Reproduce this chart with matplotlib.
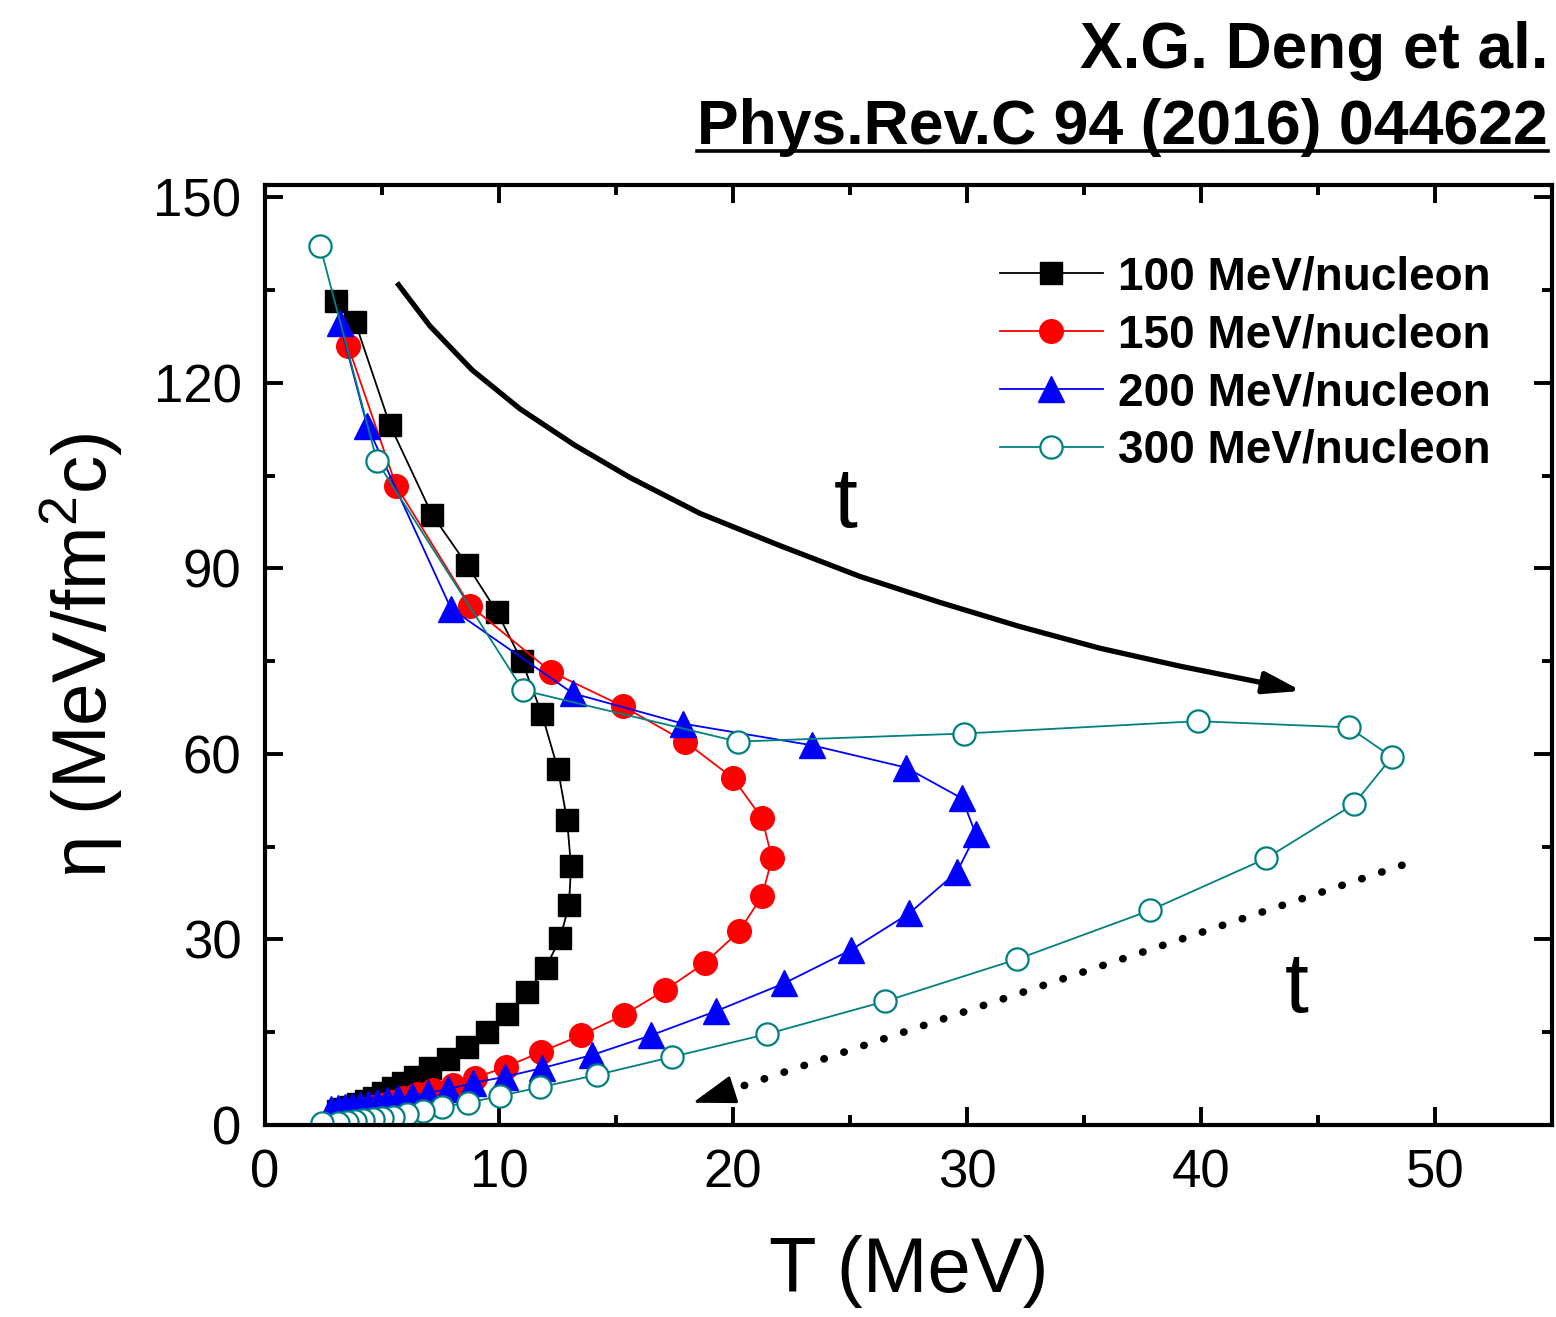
import numpy as np
import matplotlib.pyplot as plt
from matplotlib.lines import Line2D
from matplotlib.ticker import MultipleLocator

plt.rcParams['font.family'] = ['Liberation Sans', 'DejaVu Sans']
plt.rcParams['mathtext.fontset'] = 'custom'
plt.rcParams['mathtext.rm'] = 'Liberation Sans'

# 100 MeV/nucleon
T_100 = [3.03, 3.85, 5.34, 7.14, 8.63, 9.91, 10.98, 11.84, 12.52, 12.91, 13.08, 12.99,
         12.61, 12.0, 11.2, 10.34, 9.49, 8.63, 7.82, 7.05, 6.41, 5.90, 5.47, 5.04,
         4.66, 4.32, 3.97, 3.68, 3.38, 3.12]
eta_100 = [133.3, 129.9, 113.2, 98.7, 90.6, 83.0, 75.0, 66.4, 57.5, 49.3, 41.8, 35.5,
           30.2, 25.4, 21.5, 17.9, 15.0, 12.6, 10.7, 9.2, 7.8, 6.8, 6.0, 5.2,
           4.4, 3.9, 3.4, 2.9, 2.6, 2.3]

# 150 MeV/nucleon
T_150 = [3.55, 5.60, 8.76, 12.22, 15.30, 17.95, 20.0, 21.24, 21.67, 21.24, 20.26, 18.8,
         17.09, 15.34, 13.5, 11.79, 10.3, 8.97, 8.03, 7.18, 6.50, 5.90, 5.43, 5.0,
         4.57, 4.19, 3.85, 3.5]
eta_150 = [126.0, 103.4, 84.0, 73.3, 67.7, 62.0, 56.1, 49.6, 43.1, 37.0, 31.3, 26.2,
           21.8, 17.8, 14.5, 11.8, 9.4, 7.6, 6.5, 5.7, 5.0, 4.4, 3.7, 3.2,
           2.9, 2.6, 2.3, 2.1]

# 200 MeV/nucleon
T_200 = [3.2, 4.36, 7.95, 13.16, 17.86, 23.38, 27.39, 29.79, 30.38, 29.57, 27.52, 25.04,
         22.18, 19.27, 16.5, 13.97, 11.84, 10.26, 8.89, 7.82, 6.97, 6.28, 5.68, 5.21,
         4.79, 4.4, 4.06, 3.72, 3.42, 3.12, 2.82]
eta_200 = [129.7, 113.1, 83.5, 69.8, 64.9, 61.4, 57.8, 52.8, 47.0, 40.9, 34.2, 28.3,
           22.9, 18.4, 14.5, 11.3, 9.2, 7.8, 6.8, 5.8, 5.2, 4.7, 4.4, 4.0,
           3.7, 3.4, 3.2, 3.1, 2.9, 2.7, 2.6]

# 300 MeV/nucleon
T_300 = [2.35, 4.79, 11.03, 20.2, 29.87, 39.87, 46.32, 48.16, 46.54, 42.78, 37.82, 32.14,
         26.5, 21.45, 17.39, 14.19, 11.75, 10.04, 8.68, 7.56, 6.75, 6.07, 5.47, 5.0,
         4.6, 4.2, 3.85, 3.5, 3.1, 2.44]
eta_300 = [142.2, 107.3, 70.3, 62.0, 63.3, 65.3, 64.3, 59.5, 51.9, 43.1, 34.7, 26.8,
           20.0, 14.7, 11.0, 8.1, 6.1, 4.7, 3.6, 2.9, 2.2, 1.8, 1.3, 1.1,
           0.9, 0.8, 0.6, 0.5, 0.3, 0.4]

# time arrows
arrow1_T = [5.64, 7.05, 8.85, 10.9, 13.25, 15.6, 18.59, 22.0, 25.43, 28.85, 32.26,
            35.68, 39.1, 42.52, 44.3]
arrow1_eta = [136.2, 129.2, 122.1, 115.8, 109.9, 104.7, 98.9, 93.7, 88.7, 84.5, 80.6,
              77.1, 74.2, 71.6, 70.2]
arrow2_T = [48.59, 18.29]
arrow2_eta = [42.0, 3.6]

fig = plt.figure(figsize=(15.56, 13.17), dpi=100)
ax = fig.add_axes([0.1703, 0.1458, 0.8271, 0.7137])

ax.plot(T_100, eta_100, color='black', lw=1.3, marker='s', ms=16,
        mfc='black', mec='black', label='100 MeV/nucleon')
ax.plot(T_150, eta_150, color='red', lw=1.3, marker='o', ms=17,
        mfc='red', mec='red', label='150 MeV/nucleon')
ax.plot(T_200, eta_200, color='blue', lw=1.3, marker='^', ms=19,
        mfc='blue', mec='blue', label='200 MeV/nucleon')
ax.plot(T_300, eta_300, color='#008080', lw=1.3, marker='o', ms=16,
        mfc='white', mec='#008080', mew=1.6, label='300 MeV/nucleon')

# solid arrow
ax.plot(arrow1_T[:-1], arrow1_eta[:-1], color='black', lw=3.8, solid_capstyle='butt')
ax.annotate('', xy=(arrow1_T[-1], arrow1_eta[-1]), xytext=(arrow1_T[-2], arrow1_eta[-2]),
            arrowprops=dict(arrowstyle='-|>,head_length=0.75,head_width=0.22', lw=3.8,
                            color='black', mutation_scale=30, shrinkA=0, shrinkB=0))
# dotted arrow
ax.plot(arrow2_T, arrow2_eta, color='black', lw=5.5, linestyle=(0, (0.05, 2.7)),
        dash_capstyle='round')
ax.annotate('', xy=(arrow2_T[1], arrow2_eta[1]),
            xytext=(arrow2_T[1] + 0.9, arrow2_eta[1] + 1.1),
            arrowprops=dict(arrowstyle='-|>,head_length=0.9,head_width=0.3', lw=2,
                            color='black', mutation_scale=30, shrinkA=0, shrinkB=0))

ax.text(24.8, 100.2, 't', fontsize=62, ha='center', va='center')
ax.text(44.1, 21.8, 't', fontsize=62, ha='center', va='center')

ax.set_xlim(0, 55)
ax.set_ylim(0, 152)
ax.xaxis.set_major_locator(MultipleLocator(10))
ax.xaxis.set_minor_locator(MultipleLocator(5))
ax.yaxis.set_major_locator(MultipleLocator(30))
ax.yaxis.set_minor_locator(MultipleLocator(15))
ax.tick_params(which='both', direction='in', top=True, right=True, width=2.8)
ax.tick_params(which='major', length=13, labelsize=38, pad=17)
ax.tick_params(which='minor', length=7)
for s in ax.spines.values():
    s.set_linewidth(3)

ax.set_xlabel('T (MeV)', fontsize=56, labelpad=26)
ax.set_ylabel('η (MeV/fm$^2$c)', fontsize=55, labelpad=20)

ax.legend(loc='upper left', bbox_to_anchor=(0.571, 0.925), frameon=False,
          prop={'weight': 'bold', 'size': 33}, handlelength=2.25, handletextpad=0.33,
          borderpad=0, borderaxespad=0, labelspacing=0.30)

fig.text(0.995, 0.948, 'X.G. Deng et al.', fontsize=46, fontweight='bold', ha='right',
         va='baseline')
ref = fig.text(0.995, 0.891, 'Phys.Rev.C 94 (2016) 044622', fontsize=45, fontweight='bold',
               ha='right', va='baseline')
fig.canvas.draw()
bb = ref.get_window_extent().transformed(fig.transFigure.inverted())
fig.add_artist(Line2D([bb.x0, bb.x1], [0.885, 0.885], color='black', lw=2.6,
                      transform=fig.transFigure))

fig.savefig('out.png', dpi=100)
